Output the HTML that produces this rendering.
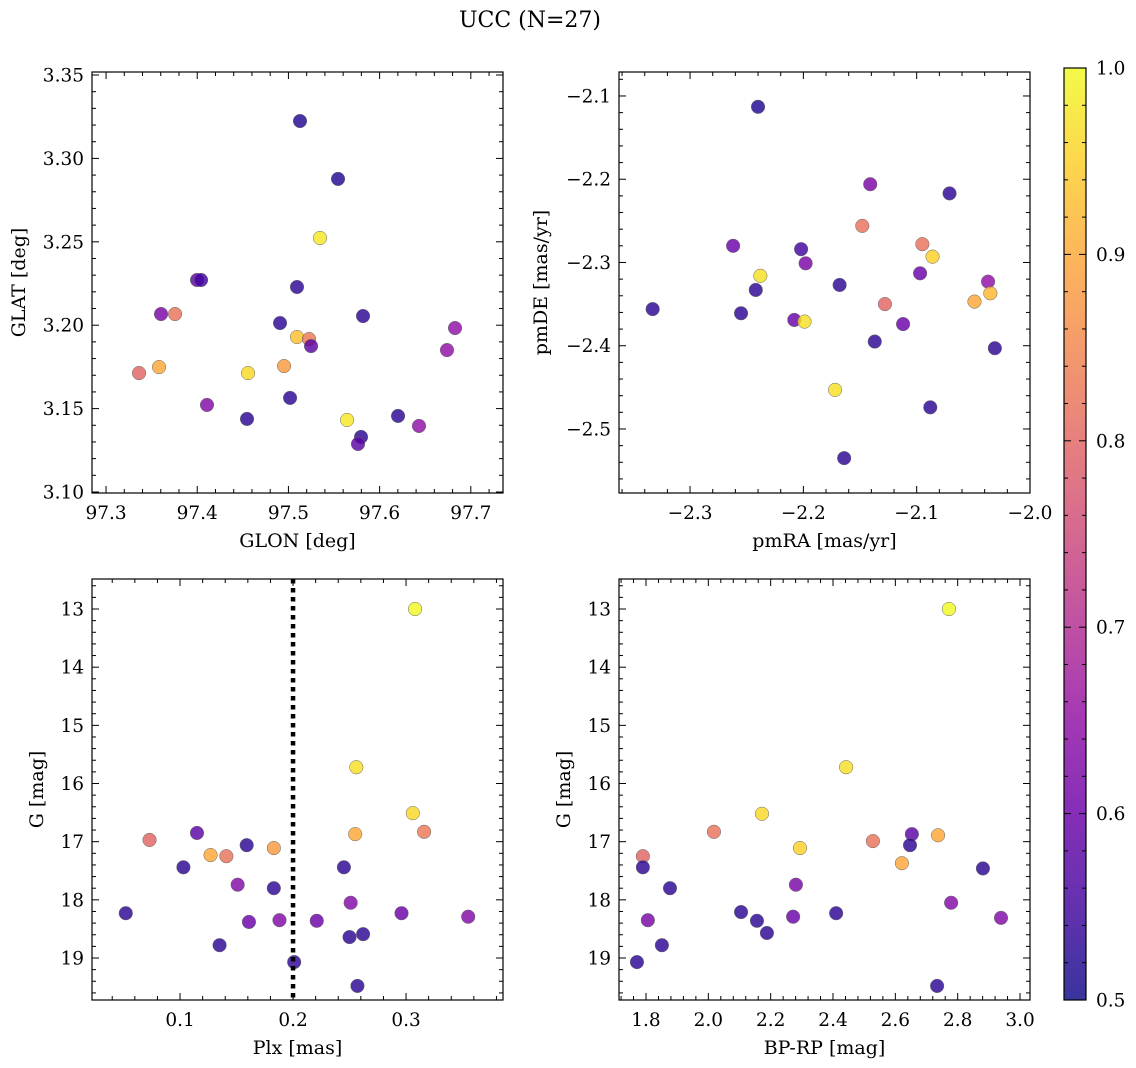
<!DOCTYPE html>
<html><head><meta charset="utf-8">
<style>
html,body{margin:0;padding:0;background:#fff;}
svg{display:block;font-family:"DejaVu Serif","Liberation Serif",serif;}
</style></head>
<body>
<svg id="chart" width="1136" height="1068" viewBox="0 0 1136 1068" xmlns="http://www.w3.org/2000/svg">
<text x="530" y="27" text-anchor="middle" font-size="22" fill="#000">UCC (N=27)</text>
</svg>
<script>
// Panel 1: GLON vs GLAT
const p1Lon = [97.5127,97.5544,97.5346,97.3998,97.4042,97.5094,97.3603,97.3757,97.4908,97.5818,97.6827,97.5094,97.5226,97.5248,97.3581,97.4952,97.3362,97.4557,97.6739,97.4107,97.4546,97.5018,97.5643,97.6202,97.5796,97.5763,97.6432];
const p1Lat = [3.3224,3.2877,3.2523,3.2271,3.2271,3.2229,3.2067,3.2067,3.2013,3.2055,3.1983,3.1929,3.1917,3.1875,3.1749,3.1755,3.1713,3.1713,3.1851,3.1522,3.1438,3.1564,3.1432,3.1456,3.133,3.1288,3.1396];
const p1Prob = [0.52,0.52,0.98,0.58,0.55,0.53,0.62,0.82,0.53,0.53,0.65,0.93,0.83,0.58,0.9,0.88,0.8,0.96,0.65,0.63,0.53,0.53,0.98,0.53,0.53,0.58,0.65];
// Panel 2: pmRA vs pmDE
const p2RA = [-2.240,-2.071,-2.141,-2.148,-2.262,-2.202,-2.095,-2.238,-2.198,-2.086,-2.097,-2.037,-2.168,-2.242,-2.049,-2.035,-2.128,-2.333,-2.255,-2.208,-2.199,-2.112,-2.137,-2.031,-2.172,-2.088,-2.164];
const p2DE = [-2.113,-2.217,-2.206,-2.256,-2.280,-2.284,-2.278,-2.316,-2.301,-2.293,-2.313,-2.323,-2.327,-2.333,-2.347,-2.337,-2.350,-2.356,-2.361,-2.369,-2.371,-2.374,-2.395,-2.403,-2.453,-2.474,-2.535];
const p2Prob = [0.52,0.53,0.62,0.82,0.6,0.55,0.82,0.97,0.62,0.95,0.6,0.65,0.53,0.53,0.9,0.92,0.8,0.53,0.53,0.6,0.97,0.6,0.53,0.53,0.97,0.53,0.53];
// Panel 3: Plx vs G
const p3Plx = [0.308,0.256,0.306,0.255,0.316,0.115,0.073,0.127,0.141,0.159,0.183,0.103,0.245,0.151,0.183,0.251,0.052,0.161,0.188,0.221,0.296,0.355,0.135,0.250,0.262,0.201,0.257];
const p3G = [13.0,15.72,16.51,16.87,16.83,16.85,16.97,17.23,17.25,17.06,17.11,17.44,17.44,17.74,17.80,18.05,18.23,18.38,18.35,18.36,18.23,18.29,18.78,18.64,18.59,19.07,19.48];
const p3Prob = [1.0,0.97,0.96,0.9,0.83,0.58,0.8,0.9,0.82,0.53,0.88,0.53,0.53,0.63,0.53,0.63,0.53,0.6,0.63,0.6,0.6,0.63,0.53,0.53,0.53,0.53,0.53];
// Panel 4: BP-RP vs G
const p4Col = [2.772,2.442,2.172,2.018,2.737,2.653,2.528,2.294,1.790,2.621,1.790,2.881,2.647,1.877,2.281,2.779,1.806,2.105,2.156,2.272,2.410,2.939,2.188,1.851,1.771,2.734];
const p4G = [13.0,15.72,16.52,16.83,16.89,16.87,16.99,17.11,17.25,17.37,17.44,17.46,17.06,17.80,17.74,18.05,18.35,18.21,18.36,18.29,18.23,18.31,18.57,18.78,19.07,19.48];
const p4Prob = [1.0,0.97,0.96,0.82,0.9,0.58,0.82,0.95,0.8,0.9,0.53,0.53,0.53,0.53,0.62,0.63,0.62,0.53,0.53,0.6,0.53,0.63,0.53,0.53,0.53,0.53];
// tick labels
const p1XTicks = [97.3,97.4,97.5,97.6,97.7];
const p1YTicks = [3.10,3.15,3.20,3.25,3.30,3.35];
const p2XTicks = [-2.3,-2.2,-2.1,-2.0];
const p2YTicks = [-2.5,-2.4,-2.3,-2.2,-2.1];
const p3XTicks = [0.1,0.2,0.3];
const gTicks = [13,14,15,16,17,18,19];
const p4XTicks = [1.8,2.0,2.2,2.4,2.6,2.8,3.0];
const cbTicks = [0.5,0.6,0.7,0.8,0.9,1.0];
const plxCut = [0.2];

const NS="http://www.w3.org/2000/svg";
const svg=document.getElementById('chart');
const TF=18.5, LF=19;
function mk(tag,attrs,parent){const e=document.createElementNS(NS,tag);for(const k in attrs)e.setAttribute(k,attrs[k]);(parent||svg).appendChild(e);return e;}
const stops=[[0,[13,8,135]],[0.1,[65,4,157]],[0.2,[106,0,168]],[0.3,[143,13,164]],[0.4,[177,42,144]],[0.5,[204,71,120]],[0.6,[225,100,98]],[0.7,[242,132,75]],[0.8,[252,166,54]],[0.9,[252,206,37]],[1,[240,249,33]]];
function plasma(t){t=Math.max(0,Math.min(1,t));for(let i=1;i<stops.length;i++){if(t<=stops[i][0]){const a=stops[i-1],b=stops[i];const f=(t-a[0])/(b[0]-a[0]);const c=a[1].map((v,j)=>Math.round(v+(b[1][j]-v)*f));return `rgb(${c[0]},${c[1]},${c[2]})`;}}return 'rgb(240,249,33)';}
function fmt(v,d){const s=Math.abs(v).toFixed(d);return (v<0?'\u2212':'')+s;}

function panel(c){
  const g=mk('g',{});
  
  
  const sx=v=>c.x0+(v-c.xmin)/(c.xmax-c.xmin)*(c.x1-c.x0);
  const sy=c.invert? v=>c.y0+(v-c.ymin)/(c.ymax-c.ymin)*(c.y1-c.y0) : v=>c.y1-(v-c.ymin)/(c.ymax-c.ymin)*(c.y1-c.y0);
  for(let i=0;i<c.xs.length;i++){
    const p=mk('circle',{cx:sx(c.xs[i]),cy:sy(c.ys[i]),r:6.8,fill:plasma((c.ps[i]-0.5)/0.5),'fill-opacity':0.82,stroke:'#666','stroke-width':0.5},g);
    
    
  }
  if(c.vline){const l=mk('line',{x1:sx(c.vline[0]),x2:sx(c.vline[0]),y1:c.y0,y2:c.y1,stroke:'#000','stroke-width':4.5,'stroke-dasharray':'4.5,4.5'},g);
    
    }
  const fr=mk('rect',{x:c.x0,y:c.y0,width:c.x1-c.x0,height:c.y1-c.y0,fill:'none',stroke:'#000','stroke-width':1.2},g);
  
  
  const xs=c.xticks, dx=(xs[1]-xs[0])/c.xminor;
  for(let v=c.xmin-((c.xmin%dx)+dx)%dx; v<=c.xmax+1e-9; v+=dx){
    const X=sx(v); if(X<c.x0-0.1||X>c.x1+0.1)continue;
    const isMaj=xs.some(t=>Math.abs(t-v)<dx*0.01); const L=isMaj?7:4;
    mk('line',{x1:X,x2:X,y1:c.y1,y2:c.y1-L,stroke:'#000','stroke-width':1},g);
    mk('line',{x1:X,x2:X,y1:c.y0,y2:c.y0+L,stroke:'#000','stroke-width':1},g);
  }
  xs.forEach(t=>{const X=sx(t);if(X<c.x0-1||X>c.x1+1)return;const tx=mk('text',{x:X,y:c.y1+26,'text-anchor':'middle','font-size':TF},g);tx.textContent=fmt(t,c.xd);
    
    });
  const ys=c.yticks, dy=(ys[1]-ys[0])/c.yminor;
  for(let v=c.ymin-((c.ymin%dy)+dy)%dy; v<=c.ymax+1e-9; v+=dy){
    const Y=sy(v); if(Y<c.y0-0.1||Y>c.y1+0.1)continue;
    const isMaj=ys.some(t=>Math.abs(t-v)<dy*0.01); const L=isMaj?7:4;
    mk('line',{x1:c.x0,x2:c.x0+L,y1:Y,y2:Y,stroke:'#000','stroke-width':1},g);
    mk('line',{x1:c.x1,x2:c.x1-L,y1:Y,y2:Y,stroke:'#000','stroke-width':1},g);
  }
  ys.forEach(t=>{const Y=sy(t);if(Y<c.y0-1||Y>c.y1+1)return;const tx=mk('text',{x:c.x0-8,y:Y+6.5,'text-anchor':'end','font-size':TF},g);tx.textContent=fmt(t,c.yd);
    
    });
  const xl=mk('text',{x:(c.x0+c.x1)/2,y:c.y1+54,'text-anchor':'middle','font-size':LF},g);xl.textContent=c.xlabel;
  
  
  const yl=mk('text',{x:0,y:0,'text-anchor':'middle','font-size':LF,transform:`translate(${c.ylx},${(c.y0+c.y1)/2}) rotate(-90)`},g);yl.textContent=c.ylabel;
  
  
}
panel({name:'glon-glat-panel',x0:92,x1:503,y0:72,y1:493,xmin:97.2846,xmax:97.7353,ymin:3.0994,ymax:3.3518,xs:p1Lon,ys:p1Lat,ps:p1Prob,xticks:p1XTicks,yticks:p1YTicks,xminor:5,yminor:5,xd:1,yd:2,xlabel:'GLON [deg]',ylabel:'GLAT [deg]',ylx:25});
panel({name:'pm-panel',x0:619,x1:1030,y0:72,y1:493,xmin:-2.3627,xmax:-2.0,ymin:-2.5769,ymax:-2.0712,xs:p2RA,ys:p2DE,ps:p2Prob,xticks:p2XTicks,yticks:p2YTicks,xminor:5,yminor:5,xd:1,yd:1,xlabel:'pmRA [mas/yr]',ylabel:'pmDE [mas/yr]',ylx:547});
panel({name:'plx-g-panel',x0:92,x1:503,y0:579,y1:1000,xmin:0.0221,xmax:0.3858,ymin:12.484,ymax:19.722,invert:true,xs:p3Plx,ys:p3G,ps:p3Prob,xticks:p3XTicks,yticks:gTicks,xminor:5,yminor:5,xd:1,yd:0,xlabel:'Plx [mas]',ylabel:'G [mag]',ylx:43,vline:plxCut});
panel({name:'cmd-panel',x0:619,x1:1030,y0:579,y1:1000,xmin:1.7134,xmax:3.032,ymin:12.484,ymax:19.722,invert:true,xs:p4Col,ys:p4G,ps:p4Prob,xticks:p4XTicks,yticks:gTicks,xminor:5,yminor:5,xd:1,yd:0,xlabel:'BP-RP [mag]',ylabel:'G [mag]',ylx:570});

const defs=mk('defs',{});
const lg=mk('linearGradient',{id:'cbg',x1:0,y1:1,x2:0,y2:0},defs);
stops.forEach(s=>mk('stop',{offset:s[0],'stop-color':plasma(s[0]),'stop-opacity':0.82},lg));
const cb=mk('g',{});


const cx0=1064,cx1=1086,cy0=68,cy1=1000;
mk('rect',{x:cx0,y:cy0,width:cx1-cx0,height:cy1-cy0,fill:'url(#cbg)',stroke:'#000','stroke-width':1.2},cb);
const cby=v=>cy1-(v-0.5)/0.5*(cy1-cy0);
for(let v=0.5;v<=1.0001;v+=0.02){const Y=cby(v);const maj=Math.abs(Math.round(v*10)-v*10)<0.01;const L=maj?7:4;
  mk('line',{x1:cx1,x2:cx1-L,y1:Y,y2:Y,stroke:'#000','stroke-width':1},cb);
  mk('line',{x1:cx0,x2:cx0+L,y1:Y,y2:Y,stroke:'#000','stroke-width':1},cb);}
cbTicks.forEach(t=>{const tx=mk('text',{x:cx1+10,y:cby(t)+6.5,'font-size':TF},cb);tx.textContent=t.toFixed(1);
  
  });
</script>
</body></html>
